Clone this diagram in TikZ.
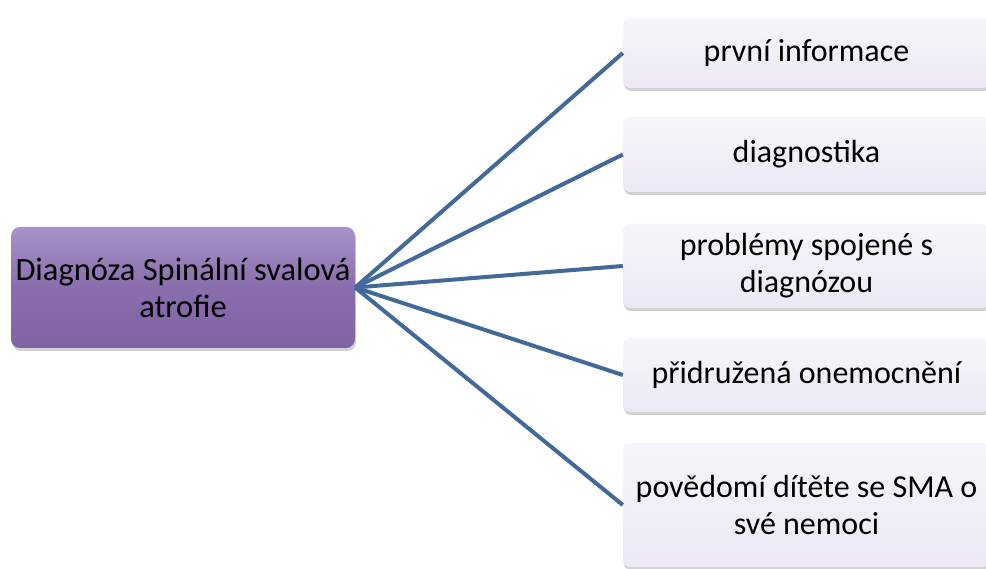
\documentclass[tikz,border=0pt]{standalone}
\usepackage{fontspec}
\setmainfont{Carlito}
\usetikzlibrary{shadows}
\definecolor{linkblue}{HTML}{41699B}
\definecolor{hubtop}{HTML}{A993C8}
\definecolor{hubmid}{HTML}{8A6DAD}
\definecolor{hubbot}{HTML}{8163A5}
\definecolor{leaftop}{HTML}{F7F5FB}
\definecolor{leafbot}{HTML}{EDE8F4}
\tikzset{
  hub/.style={rounded corners=9pt, top color=hubtop, bottom color=hubbot,
    middle color=hubmid, draw=none,
    drop shadow={opacity=0.35, shadow xshift=1pt, shadow yshift=-3pt},
    align=center, inner sep=0pt, font=\fontsize{32.5}{37}\selectfont},
  leaf/.style={rounded corners=7pt, top color=leaftop, bottom color=leafbot,
    draw=none,
    drop shadow={opacity=0.35, shadow xshift=1pt, shadow yshift=-3pt},
    align=center, inner sep=0pt, font=\fontsize{32}{37}\selectfont},
  link/.style={draw=linkblue, line width=4pt}
}
\begin{document}
\begin{tikzpicture}[x=1pt, y=-1pt]
  \useasboundingbox (0,0) rectangle (986,569);
  \clip (0,0) rectangle (986,569);
  \fill[white] (0,0) rectangle (986,569);
  % central topic
  \node[hub, minimum width=344pt, minimum height=121pt] (hub) at (183,287.5)
    {Diagnóza Spinální svalová\\atrofie};
  % branches (right ends run past the page edge)
  \node[leaf, minimum width=367pt, minimum height=70pt]  (b1) at (806.5,53)  {první informace};
  \node[leaf, minimum width=367pt, minimum height=75pt]  (b2) at (806.5,154.5) {diagnostika};
  \node[leaf, minimum width=367pt, minimum height=84pt]  (b3) at (806.5,266) {problémy spojené s\\diagnózou};
  \node[leaf, minimum width=367pt, minimum height=74pt]  (b4) at (806.5,375) {přidružená onemocnění};
  \node[leaf, minimum width=367pt, minimum height=124pt] (b5) at (806.5,505) {povědomí dítěte se SMA o\\své nemoci};
  % connectors
  \foreach \b in {b1,b2,b3,b4,b5}
    \draw[link] (hub.east) -- (\b.west);
\end{tikzpicture}
\end{document}
